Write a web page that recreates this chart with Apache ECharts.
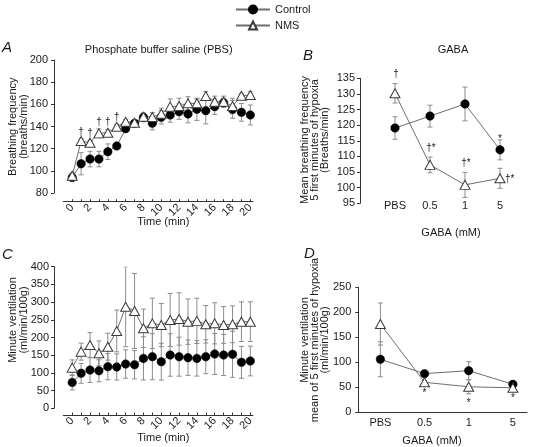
<!DOCTYPE html>
<html><head><meta charset="utf-8">
<script src="https://cdn.jsdelivr.net/npm/echarts@6/dist/echarts.min.js"></script>
<style>html,body{margin:0;padding:0;background:#fff}#c{width:535px;height:447px}</style>
</head><body><div id="c"></div>
<script>
// ---------- data ----------
const timeMin = [0,1,2,3,4,5,6,7,8,9,10,11,12,13,14,15,16,17,18,19,20];
const timeTickLabels = [0,2,4,6,8,10,12,14,16,18,20];
const freqTicks = [80,100,120,140,160,180,200];
const ventTicks = [0,50,100,150,200,250,300,350,400];
// Panel A: breathing frequency (breaths/min)
const freqControl    = [94,106.4,110.6,110.6,117.3,122.4,138,142.9,148.3,143,148.3,150.4,153.4,151.3,155.5,154.3,157.9,161.5,155.5,152.8,150.4];
const freqControlErr = [3,10,7,7,7,2,2,2,4,6,6,6.5,7,8,10,12,7,4,8,8,9];
const freqNMS        = [95.6,126.9,125.4,133.8,134.4,139.8,144.3,143.4,148.8,148.5,151.5,157.9,158.5,160.9,160.9,167.5,162.4,162.4,158.5,167.8,168.4];
const freqNMSErr     = [3,2,2,4,3,2,2,1,3,4,5,7,7,6,4,4,5,5,7,2,3];
const freqNMSMarks   = ['','†','†','†','†','†','','','','','','','','','','','','','','',''];
// Panel C: minute ventilation (ml/min/100g)
const ventControl    = [73,98.8,108,106,117.5,116.7,125,123,141,145.8,131.7,150.6,145.8,143,141,145.8,153.4,150.6,152.5,130,133.6];
const ventControlErr = [21,28,35,31,37,37,40,40,61,65,52,60,55,50,50,48,58,58,65,45,42];
const ventNMS        = [114.8,160,178.8,155.3,174,218.4,287,274.9,226,240,235.3,249.4,252.3,244.7,247,237.3,240,235.3,237.3,244.7,244.7];
const ventNMSErr     = [22,24,35,35,38,59,113,106,54,71,61,75,74,64,64,53,58,52,52,56,56];
// Panels B and D: GABA
const gabaCategories = ['PBS','0.5','1','5'];
const gabaFreqTicks = [95,100,105,110,115,120,125,130,135];
const gabaVentTicks = [0,50,100,150,200,250];
const gabaFreqControl    = [119.1,122.9,126.8,112.1];
const gabaFreqControlErr = [3.6,3.5,5.4,3.2];
const gabaFreqNMS        = [130.2,107.3,100.9,103];
const gabaFreqNMSErr     = [3.1,2.5,4,3.2];
const gabaFreqControlMarks = ['','','','*'];
const gabaFreqNMSMarks     = ['†','†*','†*',''];
const gabaFreqNMSSideMarks = ['','','','†*'];
const gabaVentControl    = [106,77.3,83.3,56];
const gabaVentControlErr = [35,3,18,3];
const gabaVentNMS        = [176.6,60,51,49];
const gabaVentNMSErr     = [42,3,14,3];
const gabaVentNMSMarks   = ['','*','*','*'];

// ---------- helpers ----------
const FONT = '"Liberation Sans", Arial, Helvetica, sans-serif';
const TXT = '#1a1a1a';
const catIdx = gabaCategories.map((c,i)=>i);

function errSeries(gi, xs, ys, errs){
  return {type:'custom', xAxisIndex:gi, yAxisIndex:gi, z:1, silent:true, clip:true,
    encode:{x:0,y:1},
    data: xs.map((x,i)=>[x, ys[i], errs[i]]),
    renderItem(params, api){
      const x=api.value(0), y=api.value(1), e=api.value(2);
      const t=api.coord([x,y+e]), b=api.coord([x,y-e]);
      const w=2.5, st={stroke:'#8c8c8c', lineWidth:1};
      return {type:'group', children:[
        {type:'line', shape:{x1:t[0],y1:t[1],x2:b[0],y2:b[1]}, style:st},
        {type:'line', shape:{x1:t[0]-w,y1:t[1],x2:t[0]+w,y2:t[1]}, style:st},
        {type:'line', shape:{x1:b[0]-w,y1:b[1],x2:b[0]+w,y2:b[1]}, style:st}
      ]};
    }};
}
// side: 1 = above error bar, -1 = below error bar, 0 = at point
function markSeries(gi, xs, ys, errs, texts, side, dx, dy, align){
  return {type:'custom', xAxisIndex:gi, yAxisIndex:gi, z:5, silent:true,
    encode:{x:0,y:1},
    data: xs.map((x,i)=>[x, ys[i], errs[i], i]),
    renderItem(params, api){
      const i=api.value(3); const s=texts[i];
      if(!s) return null;
      const p=api.coord([api.value(0), api.value(1)+side*api.value(2)]);
      return {type:'text', x:p[0]+dx, y:p[1]+dy,
        style:{text:s, fill:TXT, font:'10px '+FONT, align:align||'center', verticalAlign:'middle',
               textAlign:align||'center', textVerticalAlign:'middle'}};
    }};
}
function lineSeries(gi, name, xs, ys){
  const ctrl = name==='Control';
  return {type:'line', name, xAxisIndex:gi, yAxisIndex:gi, z:3,
    data: xs.map((x,i)=>[x, ys[i]]),
    symbol: ctrl?'circle':'triangle', symbolSize: ctrl?8.5:[10,9],
    itemStyle: ctrl?{color:'#000', borderColor:'#000', borderWidth:0.5}:{color:'#fff', borderColor:'#3a3a3a', borderWidth:1},
    lineStyle:{color:'#6e6e6e', width:1}, animation:false};
}
function yAx(gi, min, max, interval, offset, margin, ticks){
  return {type:'value', gridIndex:gi, min, max, interval, offset,
    axisLine:{show:true, onZero:false, lineStyle:{color:'#333', width:1}},
    axisTick:{show:true, length:3, lineStyle:{color:'#333'}},
    axisLabel:{color:TXT, fontSize:11, fontFamily:FONT, margin, customValues:ticks},
    splitLine:{show:false}};
}
function timeXAx(gi, offset){
  return {type:'value', gridIndex:gi, min:-1, max:20.3, interval:1, offset,
    axisLine:{show:true, onZero:false, lineStyle:{color:'#333', width:1}},
    axisTick:{show:true, inside:true, length:2.5, lineStyle:{color:'#333'}, customValues:timeMin},
    axisLabel:{color:TXT, fontSize:11, fontFamily:FONT, rotate:45, margin:4, customValues:timeTickLabels},
    splitLine:{show:false}};
}
function catXAx(gi, min, max, showLine, margin){
  return {type:'value', gridIndex:gi, min, max, interval:1,
    axisLine:{show:showLine, onZero:false, lineStyle:{color:'#333', width:1}},
    axisTick:{show:false},
    axisLabel:{color:TXT, fontSize:11, fontFamily:FONT, margin, customValues:catIdx,
      formatter:v=>gabaCategories[Math.round(v)]||''},
    splitLine:{show:false}};
}
function txt(x, y, s, opts){
  opts=opts||{};
  return {type:'text', x, y, rotation:opts.rot||0, silent:true,
    style:{text:s, fill:TXT, font:(opts.italic?'italic ':'')+(opts.size||11)+'px '+FONT,
      align:opts.align||'center', verticalAlign:'middle', textAlign:opts.align||'center', textVerticalAlign:'middle',
      lineHeight:opts.lh||11}};
}

const chart = echarts.init(document.getElementById('c'), null, {renderer:'canvas'});
const option = {
  animation:false,
  backgroundColor:'#fff',
  textStyle:{fontFamily:FONT},
  legend:{data:['Control','NMS'], orient:'vertical', left:230, top:-1, itemWidth:34, itemHeight:10, itemGap:5,
    textStyle:{color:TXT, fontSize:11, fontFamily:FONT}, selectedMode:false},
  grid:[
    {left:63.3, right:282, top:60, bottom:254, containLabel:false, outerBoundsMode:'none'},
    {left:360, right:0, top:78.3, bottom:243.7, containLabel:false, outerBoundsMode:'none'},
    {left:63.3, right:282, top:266.7, bottom:38.7, containLabel:false, outerBoundsMode:'none'},
    {left:358.3, right:8, top:287.3, bottom:34.7, containLabel:false, outerBoundsMode:'none'}
  ],
  xAxis:[ timeXAx(0, 8.7), catXAx(1, -1, 4, false, -3), timeXAx(2, 6.7), catXAx(3, -0.5, 3.32, true, 5) ],
  yAxis:[ yAx(0, 80, 200, 20, 9.3, 6, freqTicks), yAx(1, 95, 135, 5, 0, 5, gabaFreqTicks),
          yAx(2, 0, 400, 50, 9.3, 5, ventTicks), yAx(3, 0, 250, 50, 0, 7, gabaVentTicks) ],
  series:[
    errSeries(0, timeMin, freqControl, freqControlErr),
    errSeries(0, timeMin, freqNMS, freqNMSErr),
    lineSeries(0, 'Control', timeMin, freqControl),
    lineSeries(0, 'NMS', timeMin, freqNMS),
    markSeries(0, timeMin, freqNMS, freqNMSErr, freqNMSMarks, 1, 0, -7),

    errSeries(1, catIdx, gabaFreqControl, gabaFreqControlErr),
    errSeries(1, catIdx, gabaFreqNMS, gabaFreqNMSErr),
    lineSeries(1, 'Control', catIdx, gabaFreqControl),
    lineSeries(1, 'NMS', catIdx, gabaFreqNMS),
    markSeries(1, catIdx, gabaFreqNMS, gabaFreqNMSErr, gabaFreqNMSMarks, 1, 1, -9),
    markSeries(1, catIdx, gabaFreqControl, gabaFreqControlErr, gabaFreqControlMarks, 1, 0, -1),
    markSeries(1, catIdx, gabaFreqNMS, gabaFreqNMSErr, gabaFreqNMSSideMarks, 0, 5, 1, 'left'),

    errSeries(2, timeMin, ventControl, ventControlErr),
    errSeries(2, timeMin, ventNMS, ventNMSErr),
    lineSeries(2, 'Control', timeMin, ventControl),
    lineSeries(2, 'NMS', timeMin, ventNMS),

    errSeries(3, catIdx, gabaVentControl, gabaVentControlErr),
    errSeries(3, catIdx, gabaVentNMS, gabaVentNMSErr),
    lineSeries(3, 'Control', catIdx, gabaVentControl),
    lineSeries(3, 'NMS', catIdx, gabaVentNMS),
    markSeries(3, catIdx, gabaVentNMS, gabaVentNMSErr, gabaVentNMSMarks, -1, 0, 9)
  ],
  graphic:[
    txt(2, 48, 'A', {italic:true, size:15, align:'left'}),
    txt(158.7, 50, 'Phosphate buffer saline (PBS)'),
    txt(18.3, 126.7, 'Breathing frequency\n(breaths/min)', {rot:Math.PI/2}),
    txt(163.3, 222, 'Time (min)'),
    txt(303, 56, 'B', {italic:true, size:15, align:'left'}),
    txt(453, 50, 'GABA'),
    txt(315, 140, 'Mean breathing frequency\n5 first minutes of hypoxia\n(Breaths/min)', {rot:Math.PI/2, lh:10}),
    txt(451, 233, 'GABA (mM)'),
    txt(2, 255, 'C', {italic:true, size:15, align:'left'}),
    txt(18.3, 320, 'Minute ventilation\n(ml/min/100g)', {rot:Math.PI/2}),
    txt(163.3, 438, 'Time (min)'),
    txt(304, 254, 'D', {italic:true, size:15, align:'left'}),
    txt(315, 340, 'Minute ventilation\nmean of 5 first minutes of hypoxia\n(ml/min/100g)', {rot:Math.PI/2, lh:10}),
    txt(432, 440.7, 'GABA (mM)')
  ]
};
chart.setOption(option);
</script>
</body></html>
